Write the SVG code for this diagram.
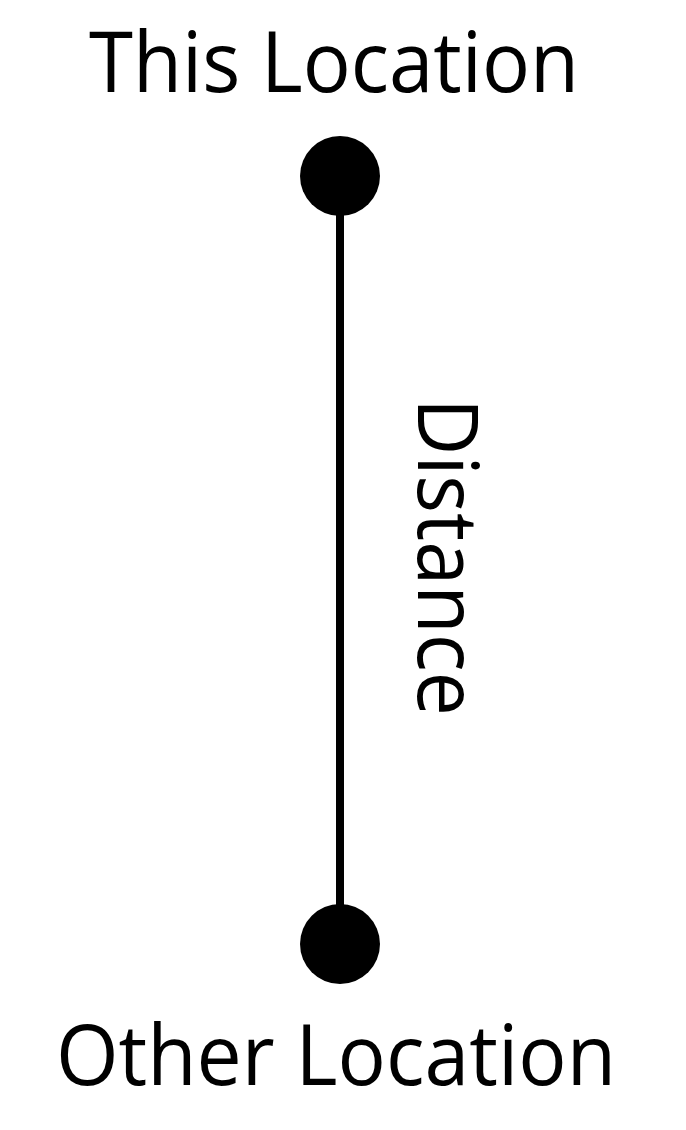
<svg xmlns="http://www.w3.org/2000/svg" width="686" height="1130" viewBox="0 0 686 1130">
<style>
.lbl{font-family:"Open Sans","Noto Sans","Liberation Sans",sans-serif;font-size:84px;fill:#000}
.dot{fill:#000}
.conn{stroke:#000;stroke-width:8;fill:none}
</style>
<rect width="686" height="1130" fill="#fff"/>
<g id="connectors">
<line class="conn" x1="340" y1="176" x2="340" y2="944"/>
<text class="lbl" transform="translate(418,398) rotate(90)" x="0" y="0" textLength="318" lengthAdjust="spacingAndGlyphs">Distance</text>
</g>
<g id="this-location">
<circle class="dot" cx="340" cy="176" r="40"/>
<text class="lbl" x="334" y="92" text-anchor="middle" textLength="490" lengthAdjust="spacingAndGlyphs">This Location</text>
</g>
<g id="other-location">
<circle class="dot" cx="340" cy="944" r="40"/>
<text class="lbl" x="336" y="1085" text-anchor="middle" textLength="560" lengthAdjust="spacingAndGlyphs">Other Location</text>
</g>
</svg>
